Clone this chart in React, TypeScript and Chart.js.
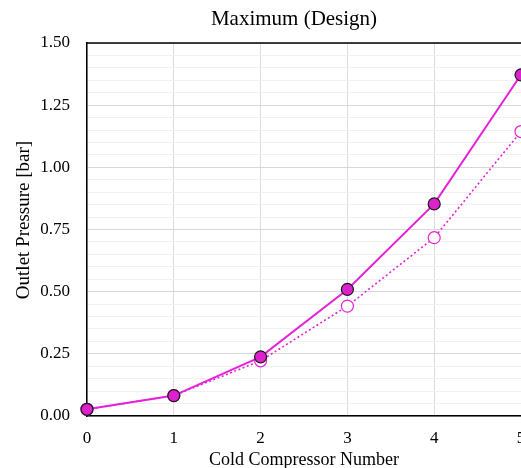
import { useEffect, useRef } from 'react';
import { Chart, registerables } from 'chart.js';

Chart.register(...registerables);

const chartTitle = 'Maximum (Design)';
const xAxisTitle = 'Cold Compressor Number';
const yAxisTitle = 'Outlet Pressure [bar]';
const compressorNumbers = [0, 1, 2, 3, 4, 5];
const designPressure = [0.027, 0.082, 0.238, 0.509, 0.853, 1.372];
const secondaryPressure = [0.027, 0.082, 0.222, 0.442, 0.717, 1.144];
const yTickLabels = ['0.00', '0.25', '0.50', '0.75', '1.00', '1.25', '1.50'];

const FONT = '"Liberation Serif", "Times New Roman", serif';
const LINE = '#e622d8';
const FILL = '#dc22cc';

const decorPlugin = {
  id: 'decor',
  beforeDatasetsDraw(chart: any) {
    const { ctx, chartArea } = chart;
    ctx.save();
    ctx.strokeStyle = '#000';
    ctx.lineWidth = 1.5;
    ctx.beginPath();
    ctx.moveTo(chartArea.left, chartArea.top);
    ctx.lineTo(chartArea.right, chartArea.top);
    ctx.stroke();
    ctx.restore();
  },
  afterDraw(chart: any) {
    const { ctx, chartArea } = chart;
    ctx.save();
    ctx.font = `21px ${FONT}`;
    ctx.fillStyle = '#000';
    ctx.textAlign = 'center';
    ctx.textBaseline = 'alphabetic';
    ctx.fillText(chartTitle, (chartArea.left + chartArea.right) / 2 - 10, 25);
    ctx.restore();

    ctx.save();
    ctx.font = `19px ${FONT}`;
    ctx.fillStyle = '#000';
    ctx.textAlign = 'center';
    ctx.textBaseline = 'alphabetic';
    ctx.translate(28.5, (chartArea.top + chartArea.bottom) / 2 - 9.5);
    ctx.rotate(-Math.PI / 2);
    ctx.fillText(yAxisTitle, 0, 0);
    ctx.restore();
  },
};

export default function App() {
  const ref = useRef<HTMLCanvasElement | null>(null);

  useEffect(() => {
    if (!ref.current) return;
    const chart = new Chart(ref.current, {
      type: 'line',
      data: {
        datasets: [
          {
            label: 'Design',
            data: compressorNumbers.map((x, i) => ({ x, y: designPressure[i] })),
            borderColor: LINE,
            borderWidth: 2,
            pointRadius: 6,
            pointBackgroundColor: FILL,
            pointBorderColor: '#1a1a1a',
            pointBorderWidth: 1.2,
            tension: 0,
            clip: false,
          },
          {
            label: 'Alternative',
            data: compressorNumbers.map((x, i) => ({ x, y: secondaryPressure[i] })),
            borderColor: LINE,
            borderWidth: 1.6,
            borderDash: [2, 2.5],
            pointRadius: 6,
            pointBackgroundColor: '#ffffff',
            pointBorderColor: LINE,
            pointBorderWidth: 1.2,
            tension: 0,
            clip: false,
          },
        ],
      },
      options: {
        animation: false,
        responsive: false,
        events: [],
        layout: { autoPadding: false, padding: { top: 43, right: 0, left: 0, bottom: 0 } },
        plugins: {
          legend: { display: false },
          tooltip: { enabled: false },
          title: { display: false },
        },
        scales: {
          x: {
            type: 'linear',
            min: 0,
            max: 5,
            ticks: {
              stepSize: 1,
              color: '#000',
              font: { family: FONT, size: 17 },
              padding: 12,
            },
            grid: { color: '#dddddd', lineWidth: 1, drawTicks: false },
            border: { display: true, color: '#000', width: 1.5 },
            title: {
              display: true,
              text: xAxisTitle,
              color: '#000',
              font: { family: FONT, size: 18, lineHeight: 0.85 },
              padding: { top: 0, bottom: 0 },
            },
            afterFit: (s: any) => {
              s.paddingRight = 0;
              s.paddingLeft = 0;
              s.height = 52;
            },
          },
          y: {
            type: 'linear',
            min: 0,
            max: 1.5,
            ticks: {
              stepSize: 0.05,
              autoSkip: false,
              color: '#000',
              font: { family: FONT, size: 17 },
              padding: 17,
              callback: (v: any) => {
                const label = Number(v).toFixed(2);
                return yTickLabels.includes(label) ? label : '';
              },
            },
            grid: {
              drawTicks: false,
              lineWidth: 1,
              color: (c: any) =>
                c.tick && Math.round(c.tick.value * 100) % 25 === 0 ? '#d8d8d8' : '#f0f0f0',
            },
            border: { display: true, color: '#000', width: 1.5 },
            title: { display: false, text: yAxisTitle },
            afterFit: (s: any) => {
              s.width = 87;
              s.paddingTop = 0;
              s.paddingBottom = 0;
            },
          },
        },
      },
      plugins: [decorPlugin],
    } as any);
    return () => chart.destroy();
  }, []);

  return (
    <div style={{ position: 'fixed', left: 0, top: 0, width: 521, height: 468, background: '#fff' }}>
      <canvas ref={ref} width={521} height={468} style={{ display: 'block', width: 521, height: 468 }} />
    </div>
  );
}
